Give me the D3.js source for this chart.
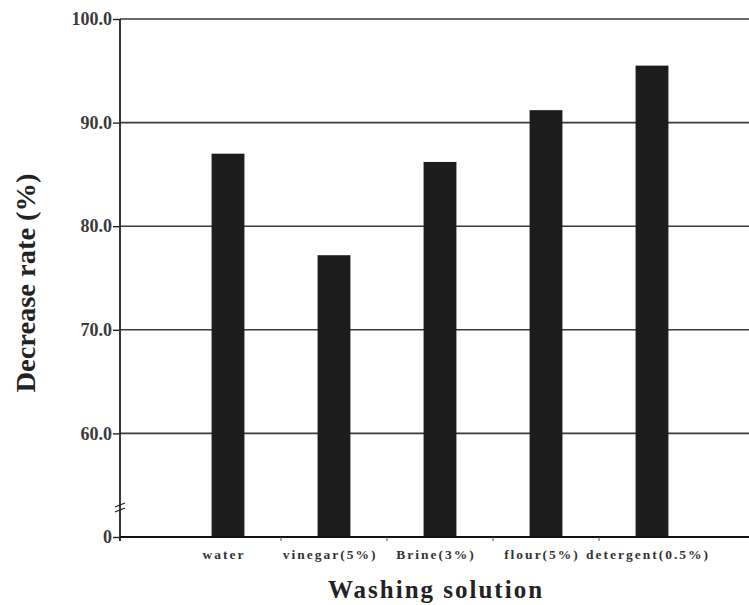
<!DOCTYPE html>
<html>
<head>
<meta charset="utf-8">
<script src="https://cdn.jsdelivr.net/npm/d3@7"></script>
<style>
  body { margin: 0; background: #fff; }
  svg { display: block; }
</style>
</head>
<body>
<svg id="chart" width="749" height="605"></svg>
<script>
const categories = ['water', 'vinegar(5%)', 'Brine(3%)', 'flour(5%)', 'detergent(0.5%)'];
const values = [87.0, 77.2, 86.2, 91.2, 95.5];
const yTicks = [60, 70, 80, 90, 100];

const svg = d3.select('#chart');
const plotLeft = 120, plotRight = 749, plotTop = 19, plotBottom = 537;

const y = d3.scaleLinear().domain([50, 100]).range([plotBottom, plotTop]);
const x = d3.scaleBand().domain(categories).range([175, 705]).paddingInner(0.69).paddingOuter(0.345);

// gridlines
svg.selectAll('.grid')
  .data(yTicks)
  .enter()
  .append('line')
  .attr('class', 'grid')
  .attr('x1', plotLeft).attr('x2', plotRight)
  .attr('y1', d => y(d)).attr('y2', d => y(d))
  .attr('stroke', '#3a3a3a')
  .attr('stroke-width', 1.6);

// bars
svg.selectAll('.bar')
  .data(values)
  .enter()
  .append('rect')
  .attr('class', 'bar')
  .attr('x', (d, i) => x(categories[i]))
  .attr('y', d => y(d))
  .attr('width', x.bandwidth())
  .attr('height', d => plotBottom - y(d))
  .attr('fill', '#1c1c1c');

// y axis with break (0 sits where 50 would be)
const yAxis = d3.axisLeft(y)
  .tickValues([50].concat(yTicks))
  .tickFormat(d => d === 50 ? '0' : d3.format('.1f')(d))
  .tickSize(7)
  .tickPadding(1);

const gy = svg.append('g')
  .attr('transform', `translate(${plotLeft},0)`)
  .call(yAxis);
gy.select('.domain').remove();
gy.selectAll('.tick line').attr('stroke', '#222').attr('stroke-width', 1.4);
gy.selectAll('.tick text')
  .attr('font-family', 'Liberation Serif, serif')
  .attr('font-weight', 'bold')
  .attr('font-size', 18)
  .attr('fill', '#3a3a3a');

svg.append('line')
  .attr('x1', plotLeft).attr('x2', plotLeft)
  .attr('y1', plotTop).attr('y2', plotBottom + 4)
  .attr('stroke', '#222').attr('stroke-width', 1.8);

// break mark
[0, 5].forEach(off => {
  svg.append('line')
    .attr('x1', plotLeft - 5).attr('x2', plotLeft + 5)
    .attr('y1', 507 + off).attr('y2', 503 + off)
    .attr('stroke', '#222').attr('stroke-width', 1.3);
});

// x axis
const gx = svg.append('g')
  .attr('transform', `translate(-4,${plotBottom})`)
  .call(d3.axisBottom(x).tickSize(0).tickPadding(12));
gx.select('.domain').remove();
gx.selectAll('.tick text')
  .attr('font-family', 'Liberation Serif, serif')
  .attr('font-weight', 'bold')
  .attr('font-size', 13.5)
  .attr('letter-spacing', 2)
  .attr('fill', '#333');

svg.append('line')
  .attr('x1', plotLeft).attr('x2', plotRight)
  .attr('y1', plotBottom).attr('y2', plotBottom)
  .attr('stroke', '#111').attr('stroke-width', 2);

// small separators between categories
svg.selectAll('.sep')
  .data(categories.slice(1))
  .enter()
  .append('line')
  .attr('class', 'sep')
  .attr('x1', d => x(d) - x.step() * x.paddingInner() / 2)
  .attr('x2', d => x(d) - x.step() * x.paddingInner() / 2)
  .attr('y1', plotBottom).attr('y2', plotBottom + 4)
  .attr('stroke', '#555').attr('stroke-width', 1);

// titles
svg.append('text')
  .attr('transform', 'translate(35,283) rotate(-90)')
  .attr('text-anchor', 'middle')
  .attr('font-family', 'Liberation Serif, serif')
  .attr('font-weight', 'bold')
  .attr('font-size', 28)
  .attr('textLength', 219)
  .attr('lengthAdjust', 'spacingAndGlyphs')
  .attr('fill', '#222')
  .text('Decrease rate (%)');

svg.append('text')
  .attr('x', 436).attr('y', 598)
  .attr('text-anchor', 'middle')
  .attr('font-family', 'Liberation Serif, serif')
  .attr('font-weight', 'bold')
  .attr('font-size', 25)
  .attr('letter-spacing', 2)
  .attr('fill', '#222')
  .text('Washing solution');
</script>
</body>
</html>
